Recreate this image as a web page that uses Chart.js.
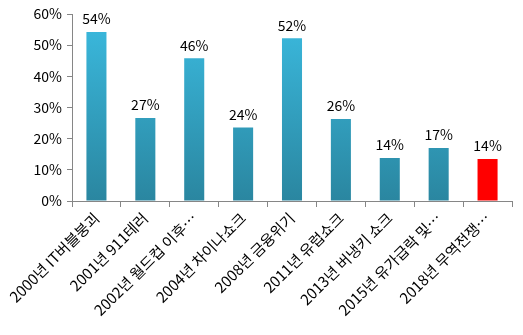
<!DOCTYPE html>
<html>
<head>
<meta charset="utf-8">
<script src="https://cdn.jsdelivr.net/npm/chart.js@4/dist/chart.umd.min.js"></script>
<style>
  html, body { margin: 0; padding: 0; background: #fff; }
  #wrap { width: 523px; height: 335px; }
</style>
</head>
<body>
<div id="wrap"><canvas id="shock-chart"></canvas></div>
<script>
var labels = ['2000년 IT버블붕괴', '2001년 911테러', '2002년 월드컵 이후…', '2004년 차이나쇼크',
  '2008년 금융위기', '2011년 유럽쇼크', '2013년 버냉키 쇼크', '2015년 유가급락 및…', '2018년 무역전쟁…'];
var values = [54.2, 26.6, 45.8, 23.6, 52.2, 26.3, 13.8, 17.0, 13.5];
var highlight_index = 8;

var font_family = "'Noto Sans CJK KR', 'Noto Sans', sans-serif";

function barColor(context)
{
  if (context.dataIndex === highlight_index) return '#ff0000';
  var area = context.chart.chartArea;
  if (!area) return '#34a9cc';
  var g = context.chart.ctx.createLinearGradient(0, area.top, 0, area.bottom);
  g.addColorStop(0, '#3bbbe0');
  g.addColorStop(1, '#2a86a0');
  return g;
}

// value labels above each bar
var valueLabels = {
  id: 'valueLabels',
  afterDatasetsDraw: function (chart) {
    var ctx = chart.ctx;
    var meta = chart.getDatasetMeta(0);
    ctx.save();
    ctx.font = '14px ' + font_family;
    ctx.fillStyle = '#000';
    ctx.textAlign = 'center';
    ctx.textBaseline = 'bottom';
    meta.data.forEach(function (bar, i) {
      ctx.fillText(Math.round(values[i]) + '%', bar.x, bar.y - 6);
    });
    ctx.restore();
  }
};

new Chart(document.getElementById('shock-chart'), {
  type: 'bar',
  data: {
    labels: labels,
    datasets: [{
      data: values,
      backgroundColor: barColor,
      categoryPercentage: 1,
      barPercentage: 0.41
    }]
  },
  options: {
    animation: false,
    responsive: true,
    maintainAspectRatio: false,
    layout: { padding: { top: 14, right: 11, left: 0, bottom: 0 } },
    plugins: { legend: { display: false }, tooltip: { enabled: false } },
    scales: {
      x: {
        offset: true,
        grid: { offset: true, drawOnChartArea: false, drawTicks: true, tickLength: 6, color: '#868686' },
        border: { color: '#868686' },
        ticks: {
          maxRotation: 45, minRotation: 45, autoSkip: false,
          color: '#000', font: { family: font_family, size: 15 }, padding: 2
        },
        afterFit: function (scale) { scale.height = 134; }
      },
      y: {
        min: 0, max: 60,
        grid: { drawOnChartArea: false, drawTicks: true, tickLength: 5, color: '#868686' },
        border: { color: '#868686' },
        ticks: {
          stepSize: 10,
          color: '#000', font: { family: font_family, size: 14 }, padding: 5,
          callback: function (v) { return v + '%'; }
        },
        afterFit: function (scale) { scale.width = 72; }
      }
    }
  },
  plugins: [valueLabels]
});
</script>
</body>
</html>
